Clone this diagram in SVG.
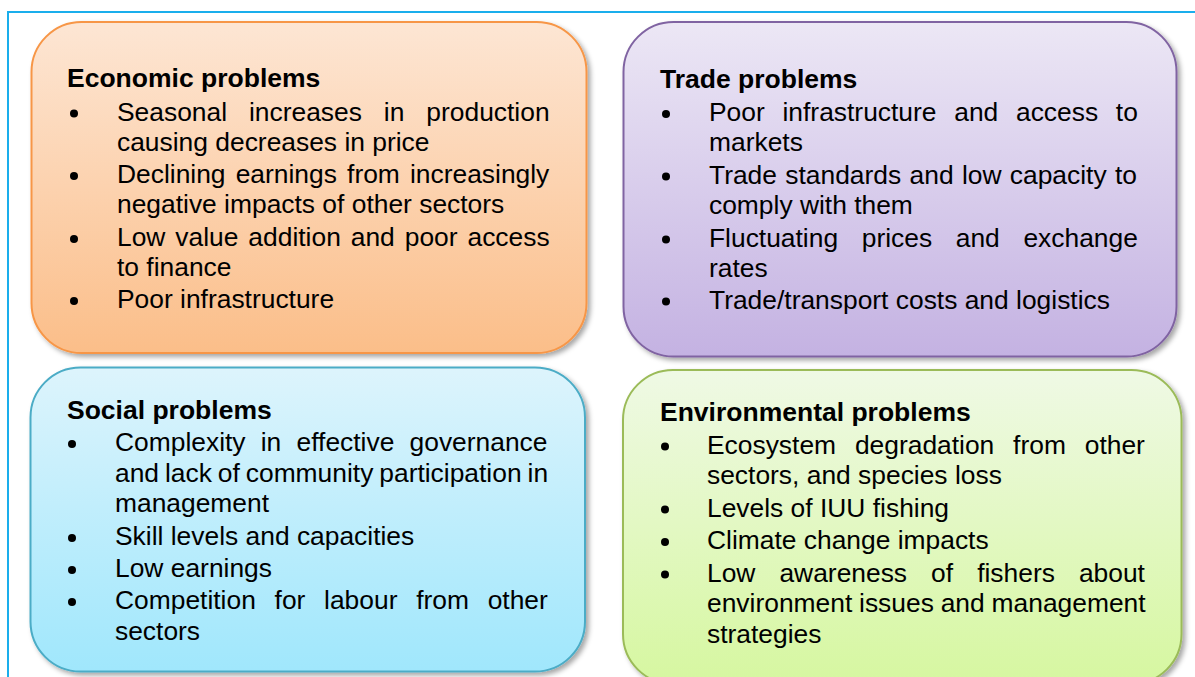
<svg xmlns="http://www.w3.org/2000/svg" width="1195" height="677" viewBox="0 0 1195 677">
<style>
text{font-family:"Liberation Sans",Arial,sans-serif;font-size:26.4px;fill:#000}
.t{font-weight:bold;font-size:26.5px}
.b{fill:#000}
.box{stroke-width:2}
</style>
<defs>
<filter id="sh" x="-5%" y="-5%" width="112%" height="115%">
<feDropShadow dx="3" dy="3" stdDeviation="2.5" flood-color="#000" flood-opacity="0.35"/>
</filter>
<linearGradient id="gO" x1="0" y1="0" x2="0" y2="1"><stop offset="0" stop-color="#FDE6D4"/><stop offset="1" stop-color="#FBBE89"/></linearGradient>
<linearGradient id="gP" x1="0" y1="0" x2="0" y2="1"><stop offset="0" stop-color="#ECE7F5"/><stop offset="1" stop-color="#C4B2E2"/></linearGradient>
<linearGradient id="gB" x1="0" y1="0" x2="0" y2="1"><stop offset="0" stop-color="#DDF4FC"/><stop offset="1" stop-color="#A0E7FC"/></linearGradient>
<linearGradient id="gG" x1="0" y1="0" x2="0" y2="1"><stop offset="0" stop-color="#EFF9E5"/><stop offset="1" stop-color="#D6F7A0"/></linearGradient>
</defs>
<rect width="1195" height="677" fill="#fff"/>
<g id="frame" fill="none" stroke="#1AAEEC" stroke-width="2">
<line x1="7" y1="12" x2="1195" y2="12"/>
<line x1="8" y1="11" x2="8" y2="677"/>
</g>
<g id="connectors"/>
<g id="economic">
<rect class="box" x="31.5" y="22" width="555" height="331" rx="50" fill="url(#gO)" stroke="#F79646" filter="url(#sh)"/>
<text class="t" x="67" y="87">Economic problems</text>
<circle class="b" cx="74" cy="113.5" r="4"/>
<circle class="b" cx="74" cy="176" r="4"/>
<circle class="b" cx="74" cy="239" r="4"/>
<circle class="b" cx="74" cy="301" r="4"/>
<text x="117" y="120.5" style="word-spacing:14.6px">Seasonal increases in production</text>
<text x="117" y="150.5">causing decreases in price</text>
<text x="117" y="183" style="word-spacing:2.8px">Declining earnings from increasingly</text>
<text x="117" y="213">negative impacts of other sectors</text>
<text x="117" y="246" style="word-spacing:2.6px">Low value addition and poor access</text>
<text x="117" y="276">to finance</text>
<text x="117" y="308">Poor infrastructure</text>
</g>
<g id="trade">
<rect class="box" x="623.5" y="22" width="553" height="334.5" rx="50" fill="url(#gP)" stroke="#8064A2" filter="url(#sh)"/>
<text class="t" x="660" y="88">Trade problems</text>
<circle class="b" cx="666" cy="114" r="4"/>
<circle class="b" cx="666" cy="176.5" r="4"/>
<circle class="b" cx="666" cy="239.5" r="4"/>
<circle class="b" cx="666" cy="301.5" r="4"/>
<text x="709" y="121" style="word-spacing:10.4px">Poor infrastructure and access to</text>
<text x="709" y="151">markets</text>
<text x="709" y="183.5" style="word-spacing:1px">Trade standards and low capacity to</text>
<text x="709" y="213.5">comply with them</text>
<text x="709" y="246.5" style="word-spacing:16.3px">Fluctuating prices and exchange</text>
<text x="709" y="276.5">rates</text>
<text x="709" y="308.5">Trade/transport costs and logistics</text>
</g>
<g id="social">
<rect class="box" x="30.5" y="367.5" width="554.5" height="304" rx="50" fill="url(#gB)" stroke="#4BACC6" filter="url(#sh)"/>
<text class="t" x="67" y="419">Social problems</text>
<circle class="b" cx="72" cy="444" r="4"/>
<circle class="b" cx="72" cy="538" r="4"/>
<circle class="b" cx="72" cy="570" r="4"/>
<circle class="b" cx="72" cy="602" r="4"/>
<text x="115" y="451" style="word-spacing:7.9px">Complexity in effective governance</text>
<text x="115" y="481.5" style="word-spacing:-1.4px">and lack of community participation in</text>
<text x="115" y="512">management</text>
<text x="115" y="545">Skill levels and capacities</text>
<text x="115" y="577">Low earnings</text>
<text x="115" y="609" style="word-spacing:11.4px">Competition for labour from other</text>
<text x="115" y="639.5">sectors</text>
</g>
<g id="environmental">
<rect class="box" x="623" y="370" width="558.5" height="314" rx="50" fill="url(#gG)" stroke="#9BBB59" filter="url(#sh)"/>
<text class="t" x="660" y="421">Environmental problems</text>
<circle class="b" cx="665" cy="446.5" r="4"/>
<circle class="b" cx="665" cy="509.5" r="4"/>
<circle class="b" cx="665" cy="542" r="4"/>
<circle class="b" cx="665" cy="574.5" r="4"/>
<text x="707" y="453.5" style="word-spacing:11.5px">Ecosystem degradation from other</text>
<text x="707" y="484">sectors, and species loss</text>
<text x="707" y="516.5">Levels of IUU fishing</text>
<text x="707" y="549">Climate change impacts</text>
<text x="707" y="581.5" style="word-spacing:16.7px">Low awareness of fishers about</text>
<text x="707" y="612" style="word-spacing:-0.5px">environment issues and management</text>
<text x="707" y="642.5">strategies</text>
</g>
</svg>
